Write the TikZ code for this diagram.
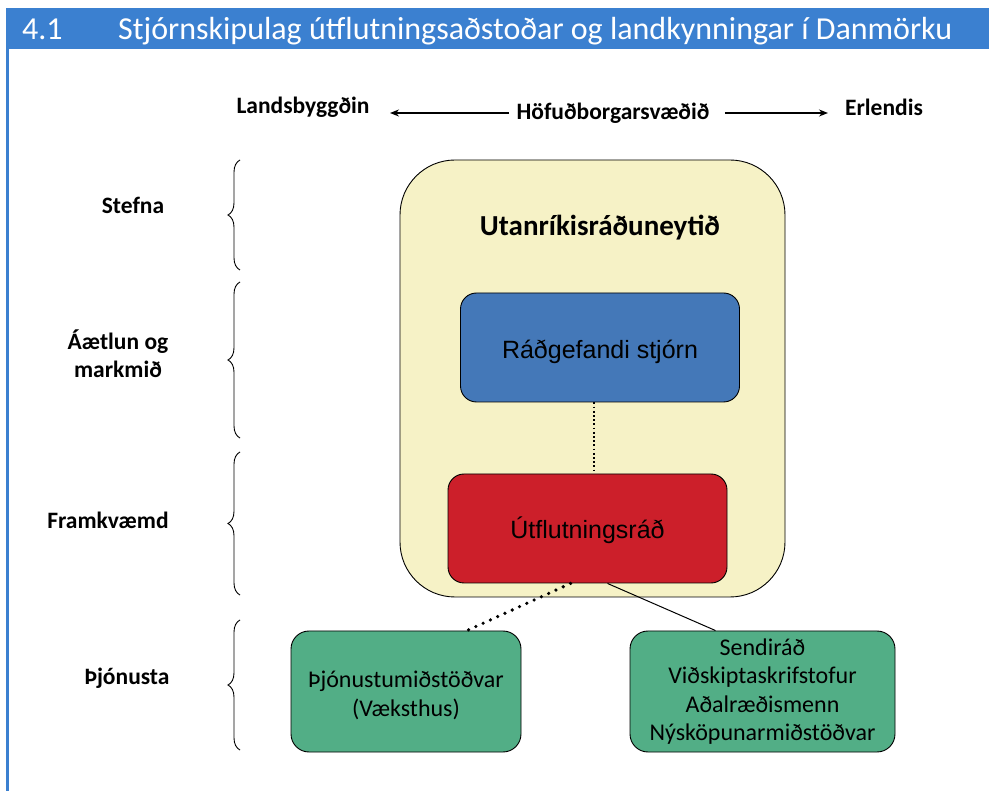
\documentclass[tikz,border=0pt]{standalone}
\usepackage{fontspec}
\setmainfont{Carlito}
\newfontfamily\arialf{Liberation Sans}
\usetikzlibrary{arrows.meta,decorations.pathreplacing,calc}
\definecolor{hdrblue}{RGB}{59,128,208}
\definecolor{ybox}{RGB}{246,242,198}
\definecolor{bbox}{RGB}{68,120,184}
\definecolor{rbox}{RGB}{204,31,42}
\definecolor{gbox}{RGB}{82,174,134}
\tikzset{
  lbl/.style={font=\fontsize{23.5}{28}\selectfont\bfseries, align=center},
  toplbl/.style={font=\fontsize{23.5}{28}\selectfont\bfseries},
  bracestyle/.style={decorate, decoration={brace, amplitude=12pt}, line width=0.9pt},
  innerbox/.style={draw=black, line width=0.9pt, rounded corners=16pt, minimum width=279pt, minimum height=109pt, font=\arialf\fontsize{25}{29}\selectfont},
  greenbox/.style={draw=black, line width=0.9pt, fill=gbox, rounded corners=18pt, minimum height=121pt, align=center, font=\fontsize{24}{28.5}\selectfont},
  toparrow/.style={-{Stealth[length=9pt,width=7pt]}, line width=1.4pt},
}
\begin{document}
\begin{tikzpicture}[x=1pt,y=-1pt]
\useasboundingbox (0,0) rectangle (989,791);
\fill[white] (0,0) rectangle (989,791);
% header
\fill[hdrblue] (6,8) rectangle (989,49);
\fill[hdrblue] (6,49) rectangle (8.5,791);
\node[anchor=base west, text=white, font=\fontsize{32}{36}\selectfont, inner sep=0] (num) at (22,40) {4.1};
\node[anchor=base west, text=white, font=\fontsize{32}{36}\selectfont, inner sep=0] (title) at (118,40) {Stjórnskipulag útflutningsaðstoðar og landkynningar í Danmörku};
% top labels
\node[toplbl] (lands) at (303,107) {Landsbyggðin};
\node[toplbl] (hofud) at (613,113) {Höfuðborgarsvæðið};
\node[toplbl] (erl) at (884,107) {Erlendis};
\draw[toparrow] ([xshift=-4pt]hofud.west |- 0,113) -- (390,113);
\draw[toparrow] ([xshift=12pt]hofud.east |- 0,113) -- (828,113);
% side labels and braces
\node[lbl] (stefna) at (133,205) {Stefna};
\node[lbl] (aaetlun) at (118,354) {Áætlun og\\markmið};
\node[lbl] (framkv) at (108,520) {Framkvæmd};
\node[lbl] (thjon) at (127,678) {Þjónusta};
\draw[bracestyle] (240,270) -- (240,160);
\draw[bracestyle] (240,438) -- (240,282);
\draw[bracestyle] (240,595) -- (240,452);
\draw[bracestyle] (240,750) -- (240,620);
% main boxes
\node[draw=black, line width=0.9pt, fill=ybox, rounded corners=55pt, minimum width=385pt, minimum height=437pt] (utan) at (592.5,378.5) {};
\node[font=\fontsize{29}{33}\selectfont\bfseries] (utantxt) at (600,228) {Utanríkisráðuneytið};
\node[innerbox, fill=bbox, text height=28pt, text depth=5pt] (radg) at (600,347.5) {Ráðgefandi stjórn};
\node[innerbox, fill=rbox, text height=25pt, text depth=5pt] (utfl) at (587.5,528.5) {Útflutningsráð};
\node[greenbox, minimum width=230pt] (gl) at (406,691.5) {\rule{0pt}{24pt}Þjónustumiðstöðvar\\(Væksthus)};
\node[greenbox, minimum width=265pt] (gr) at (762.5,691.5) {Sendiráð\\Viðskiptaskrifstofur\\Aðalræðismenn\\Nýsköpunarmiðstöðvar};
% connectors
\draw[line width=1.8pt, dash pattern=on 1.8pt off 2.4pt] ([xshift=-6pt]radg.south) -- ([xshift=6.5pt]utfl.north);
\draw[line width=3.6pt, line cap=round, dash pattern=on 0pt off 8pt] ([xshift=-17pt]utfl.south) -- ([xshift=61pt]gl.north);
\draw[line width=1pt] ([xshift=20pt]utfl.south) -- ([xshift=-47pt]gr.north);
\end{tikzpicture}
\end{document}
